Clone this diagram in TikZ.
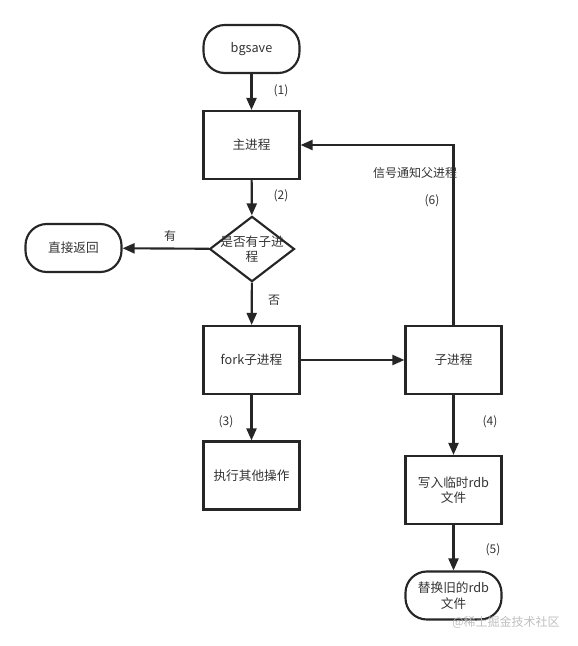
\documentclass[tikz,border=0pt]{standalone}
\usepackage{fontspec}
\setmainfont{Noto Sans CJK SC}
\usetikzlibrary{arrows.meta, shapes.geometric}

\begin{document}
\begin{tikzpicture}[x=0.75pt, y=-0.75pt, >={Triangle[length=9pt, width=7.5pt]},
    every node/.style={font=\fontsize{9.5pt}{11.5pt}\selectfont, text=black!80},
    box/.style={draw=black!85, line width=1.6pt, minimum width=72pt, minimum height=51pt, align=center, inner sep=1pt},
    term/.style={box, rounded corners=16pt, minimum height=36pt},
    decide/.style={draw=black!85, line width=1.6pt, diamond, aspect=1.3, inner sep=-2.2pt, align=center},
    flow/.style={->, draw=black!85, line width=1.6pt},
    tag/.style={font=\fontsize{9pt}{10.5pt}\selectfont}]
    \useasboundingbox (0,0) rectangle (578,646);

    % 主流程 (左列)
    \node[term] (bgsave) at (251.5,49) {bgsave};
    \node[box] (main) at (251.5,145) {主进程};
    \node[decide] (check) at (252,249) {是否有子进\\程};
    \node[term] (ret) at (73.5,248) {直接返回};
    \node[box] (fork) at (251.5,360) {fork子进程};
    \node[box] (other) at (251.5,475.5) {执行其他操作};

    % 子进程流程 (右列)
    \node[box] (child) at (453.5,360) {子进程};
    \node[box] (write) at (453.5,490) {写入临时rdb\\文件};
    \node[term] (swap) at (453.5,595.5) {替换旧的rdb\\文件};
    \coordinate (turn) at (453.5,145);

    % 连线
    \draw[flow] (bgsave) -- (main);
    \draw[flow] (main) -- (check);
    \draw[flow] (check) -- (ret);
    \draw[flow] (check) -- (fork);
    \draw[flow] (fork) -- (other);
    \draw[flow] (fork) -- (child);
    \draw[flow] (child) -- (write);
    \draw[flow] (write) -- (swap);
    \draw[flow] (child.north) -- (turn) -- (main.east);

    % 标注
    \node[tag] (n1) at (281,91) {(1)};
    \node[tag] (n2) at (281,196) {(2)};
    \node[tag] (yes) at (170,236) {有};
    \node[tag] (no) at (274,300) {否};
    \node[tag] (n3) at (226,422) {(3)};
    \node[tag] (n4) at (490,422) {(4)};
    \node[tag] (n5) at (493,550) {(5)};
    \node[tag] (sig) at (415,173) {信号通知父进程};
    \node[tag] (n6) at (432,201) {(6)};
    \node[tag, text=black!25] (mark) at (506,622) {@稀土掘金技术社区};
\end{tikzpicture}
\end{document}
